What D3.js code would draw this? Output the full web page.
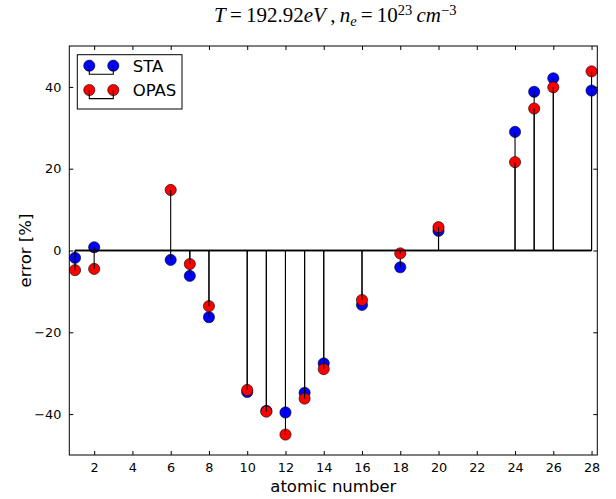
<!DOCTYPE html>
<html>
<head>
<meta charset="utf-8">
<script src="https://cdn.jsdelivr.net/npm/d3@7"></script>
<style>
  body { margin: 0; background: #fff; }
  svg { display: block; }
  text { font-family: "DejaVu Sans", sans-serif; fill: #000; }
</style>
</head>
<body>
<svg id="chart" width="616" height="499"></svg>
<script>
const atomicNumbers = [1, 2, 6, 7, 8, 10, 11, 12, 13, 14, 16, 18, 20, 24, 25, 26, 28];
const staValues  = [-1.8, 0.8, -2.3, -6.2, -16.3, -34.6, -39.2, -39.6, -34.8, -27.6, -13.3, -4.1, 4.8, 29.0, 38.8, 42.1, 39.1];
const opasValues = [-4.8, -4.5, 14.8, -3.3, -13.6, -34.1, -39.4, -45.0, -36.2, -29.0, -12.1, -0.7, 5.7, 21.6, 34.7, 39.9, 43.8];
const xTicks = [2, 4, 6, 8, 10, 12, 14, 16, 18, 20, 22, 24, 26, 28];
const yTicks = [-40, -20, 0, 20, 40];
const seriesNames = ["STA", "OPAS"];
const seriesColors = ["#0000ff", "#ff0000"];

const svg = d3.select("#chart");
const m = { left: 69.3, top: 46, right: 597.3, bottom: 455 };
const x = d3.scaleLinear().domain([0.7, 28.3]).range([m.left, m.right]);
const y = d3.scaleLinear().domain([-50, 50]).range([m.bottom, m.top]);

// title
const title = svg.append("text")
  .attr("x", (m.left + m.right) / 2 + 2).attr("y", 22)
  .attr("text-anchor", "middle")
  .style("font-family", "'Liberation Serif', 'DejaVu Serif', serif")
  .style("font-size", "21px");
title.append("tspan").style("font-style", "italic").text("T");
title.append("tspan").text("\u2009=\u2009192.92");
title.append("tspan").style("font-style", "italic").text("eV");
title.append("tspan").text("\u2009,\u2009");
title.append("tspan").style("font-style", "italic").text("n");
title.append("tspan").style("font-style", "italic").style("font-size", "14.5px").attr("dy", 4).text("e");
title.append("tspan").attr("dy", -4).text("\u2009=\u200910");
title.append("tspan").style("font-size", "14.5px").attr("dy", -7).text("23");
title.append("tspan").attr("dy", 7).text("\u2009");
title.append("tspan").style("font-style", "italic").text("cm");
title.append("tspan").style("font-size", "14.5px").attr("dy", -7).text("\u22123");

const g = svg.append("g");

// data series: markers first, then stems over them, then baseline (matplotlib stem order)
const series = [staValues, opasValues];
series.forEach((vals, si) => {
  const data = atomicNumbers.map((z, i) => ({ z, v: vals[i] }));
  g.selectAll(null).data(data).enter().append("circle")
    .attr("cx", d => x(d.z)).attr("cy", d => y(d.v)).attr("r", 5.6)
    .attr("fill", seriesColors[si]).attr("stroke", "#000").attr("stroke-width", 0.6);
  g.selectAll(null).data(data).enter().append("line")
    .attr("x1", d => x(d.z)).attr("x2", d => x(d.z))
    .attr("y1", y(0)).attr("y2", d => y(d.v))
    .attr("stroke", "#000").attr("stroke-width", 1.1);
  g.append("line")
    .attr("x1", x(d3.min(atomicNumbers))).attr("x2", x(d3.max(atomicNumbers)))
    .attr("y1", y(0)).attr("y2", y(0))
    .attr("stroke", "#000").attr("stroke-width", 1.6);
});

// frame
svg.append("rect").attr("x", m.left).attr("y", m.top)
  .attr("width", m.right - m.left).attr("height", m.bottom - m.top)
  .attr("fill", "none").attr("stroke", "#000").attr("stroke-width", 1);

// axes (inward ticks)
const xAxisB = d3.axisBottom(x).tickValues(xTicks).tickSizeInner(-4).tickSizeOuter(0).tickPadding(8).tickFormat(d3.format("d"));
const xAxisT = d3.axisTop(x).tickValues(xTicks).tickSizeInner(-4).tickSizeOuter(0).tickFormat("");
const yAxisL = d3.axisLeft(y).tickValues(yTicks).tickSizeInner(-4).tickSizeOuter(0).tickPadding(8)
  .tickFormat(d => d < 0 ? "\u2212" + Math.abs(d) : String(d));
const yAxisR = d3.axisRight(y).tickValues(yTicks).tickSizeInner(-4).tickSizeOuter(0).tickFormat("");

function styleAxis(sel) {
  sel.select(".domain").remove();
  sel.selectAll(".tick line").attr("stroke", "#000").attr("stroke-width", 1);
  sel.selectAll(".tick text").style("font-family", "'DejaVu Sans', sans-serif").style("font-size", "12.8px").attr("fill", "#000");
}
svg.append("g").attr("transform", `translate(0,${m.bottom})`).call(xAxisB).call(styleAxis);
svg.append("g").attr("transform", `translate(0,${m.top})`).call(xAxisT).call(styleAxis);
svg.append("g").attr("transform", `translate(${m.left},0)`).call(yAxisL).call(styleAxis);
svg.append("g").attr("transform", `translate(${m.right},0)`).call(yAxisR).call(styleAxis);

// axis labels
svg.append("text").attr("x", (m.left + m.right) / 2).attr("y", 492)
  .attr("text-anchor", "middle").style("font-size", "16.5px").text("atomic number");
svg.append("text").attr("transform", `translate(31,${(m.top + m.bottom) / 2}) rotate(-90)`)
  .attr("text-anchor", "middle").style("font-size", "16.5px").text("error [%]");

// legend
const leg = svg.append("g");
leg.append("rect").attr("x", 77.3).attr("y", 54.7).attr("width", 104.7).attr("height", 54.3)
  .attr("fill", "#fff").attr("stroke", "#000").attr("stroke-width", 1);
seriesNames.forEach((name, i) => {
  const cy = 65.7 + i * 24.3;
  const xa = 89.3, xb = 113.3, yb = cy + 8.6;
  [xa, xb].forEach(cx => leg.append("circle").attr("cx", cx).attr("cy", cy).attr("r", 5.6)
    .attr("fill", seriesColors[i]).attr("stroke", "#000").attr("stroke-width", 0.6));
  leg.append("path").attr("d", `M${xa},${cy}V${yb}H${xb}V${cy}`)
    .attr("fill", "none").attr("stroke", "#000").attr("stroke-width", 1.1);
  leg.append("text").attr("x", 132.7).attr("y", cy + 6).style("font-size", "16.5px").text(name);
});
</script>
</body>
</html>
